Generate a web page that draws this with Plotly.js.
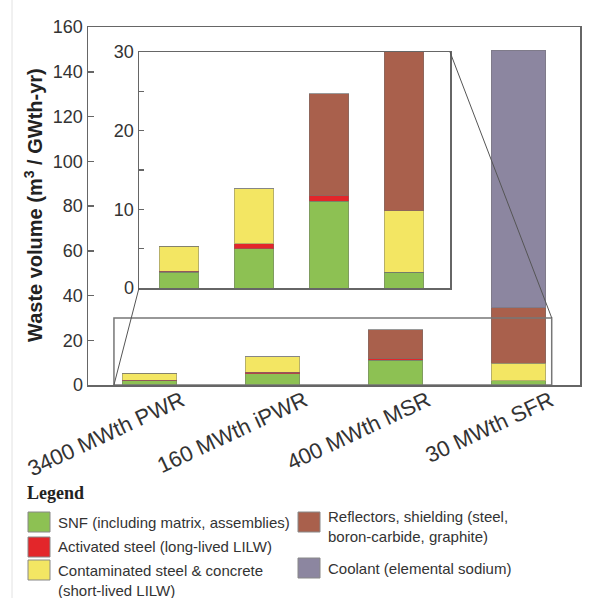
<!DOCTYPE html>
<html>
<head>
<meta charset="utf-8">
<script src="https://cdn.plot.ly/plotly-3.0.1.min.js"></script>
<style>html,body{margin:0;padding:0;background:#fff;}#chart{width:598px;height:598px;}</style>
</head>
<body>
<div id="chart"></div>
<script>
// ---- data ----
var categories = ['3400 MWth PWR', '160 MWth iPWR', '400 MWth MSR', '30 MWth SFR'];
var snf          = [2.0, 5.0, 11.0, 2.0];
var activated    = [0.1, 0.6, 0.7, 0.0];
var contaminated = [3.2, 7.0, 0.0, 7.8];
var reflectors   = [0.0, 0.0, 13.0, 24.7];
var coolant      = [0.0, 0.0, 0.0, 115.0];
var seriesNames = ['SNF (including matrix, assemblies)', 'Activated steel (long-lived LILW)',
  'Contaminated steel & concrete<br>(short-lived LILW)', 'Reflectors, shielding (steel,<br>boron-carbide, graphite)',
  'Coolant (elemental sodium)'];
var yTitle = 'Waste volume (m<sup>3</sup> / GWth-yr)';
var mainTicks = [0, 20, 40, 60, 80, 100, 120, 140, 160];
var insetTicks = [0, 10, 20, 30];

// ---- styling ----
var colors = ['#8dc153', '#e3262a', '#f3e663', '#a9604c', '#8c86a0'];
var allSeries = [snf, activated, contaminated, reflectors, coolant];
var FONT = 'Arial, "Liberation Sans", sans-serif';
var TXT = '#333';
var W = 598, H = 598, L = 88, R = 18, T = 27, B = 213;
var pw = W - L - R, ph = H - T - B;
function px(p) { return (p - L) / pw; }
function py(p) { return (H - B - p) / ph; }

var insetX = [px(139), px(450)];
var insetY = [py(288), py(52)];
var mainXRange = [-0.5, 3.5];
var insetXRange = [-0.533, 3.613];
var zoomBox = {x0: -0.289, x1: 3.27, y0: 0, y1: 30};

var traces = [];
allSeries.forEach(function (vals, i) {
  traces.push({type: 'bar', x: categories, y: vals, name: seriesNames[i], width: 0.44,
    marker: {color: colors[i], line: {color: 'rgba(110,110,110,0.45)', width: 1}},
    xaxis: 'x', yaxis: 'y', showlegend: false, hoverinfo: 'skip'});
  traces.push({type: 'bar', x: categories, y: vals, name: seriesNames[i], width: 0.53,
    marker: {color: colors[i], line: {color: 'rgba(110,110,110,0.45)', width: 1}},
    xaxis: 'x2', yaxis: 'y2', showlegend: false, hoverinfo: 'skip'});
});

function mainToPaperX(v) { return (v - mainXRange[0]) / (mainXRange[1] - mainXRange[0]); }

var shapes = [
  {type: 'line', xref: 'paper', yref: 'paper', x0: px(12), x1: px(12), y0: py(0), y1: py(598),
   line: {color: '#e2e2e2', width: 1}},
  {type: 'rect', xref: 'x', yref: 'y', x0: zoomBox.x0, x1: zoomBox.x1, y0: zoomBox.y0, y1: zoomBox.y1,
   line: {color: '#777', width: 1.5}},
  {type: 'line', xref: 'paper', yref: 'paper', x0: mainToPaperX(zoomBox.x0), y0: zoomBox.y0 / 160,
   x1: insetX[0], y1: insetY[0], line: {color: '#555', width: 1}},
  {type: 'line', xref: 'paper', yref: 'paper', x0: insetX[1], y0: insetY[1],
   x1: mainToPaperX(zoomBox.x1), y1: zoomBox.y1 / 160, line: {color: '#555', width: 1}}
];

var annotations = [
  {xref: 'paper', yref: 'paper', x: px(33), y: py(205), xanchor: 'center', yanchor: 'middle',
   textangle: -90, text: '<b>' + yTitle + '</b>', showarrow: false,
   font: {family: FONT, size: 20, color: '#222'}},
  {xref: 'paper', yref: 'paper', x: px(25), y: py(493), xanchor: 'left', yanchor: 'middle',
   text: '<b>Legend</b>', showarrow: false, font: {family: '"Liberation Serif", "Times New Roman", serif', size: 18, color: '#222'}}
];
// legend layout: [swatch left px, swatch top px, text y center px]
var legendPos = [[28, 512, 522], [28, 537, 546], [28, 560, 580], [298, 512, 526], [298, 558, 568]];
seriesNames.forEach(function (n, i) {
  var p = legendPos[i];
  shapes.push({type: 'rect', xref: 'paper', yref: 'paper', x0: px(p[0]), x1: px(p[0] + 22),
    y0: py(p[1] + 20), y1: py(p[1]), fillcolor: colors[i], line: {color: '#888', width: 1}});
  annotations.push({xref: 'paper', yref: 'paper', x: px(p[0] + 28), y: py(p[2]), xanchor: 'left',
    yanchor: 'middle', align: 'left', text: n, showarrow: false,
    font: {family: FONT, size: 15, color: TXT}});
});

var layout = {
  width: W, height: H,
  margin: {l: L, r: R, t: T, b: B, pad: 0},
  paper_bgcolor: '#fff', plot_bgcolor: 'rgba(0,0,0,0)',
  barmode: 'stack',
  font: {family: FONT, color: TXT},
  xaxis: {type: 'category', range: mainXRange, domain: [0, 1], anchor: 'y',
    showline: true, mirror: true, linecolor: '#666', linewidth: 1.5, ticks: '',
    tickangle: -25, tickfont: {size: 22, color: TXT}, ticklabelshift: 32, ticklabelstandoff: -7,
    showgrid: false, zeroline: false, fixedrange: true},
  yaxis: {range: [0, 160], domain: [0, 1], anchor: 'x', tickvals: mainTicks,
    showline: true, mirror: true, linecolor: '#666', linewidth: 1.5,
    ticks: 'inside', ticklen: 6, tickcolor: '#666', tickwidth: 1.5,
    tickfont: {size: 18, color: TXT}, showgrid: false, zeroline: false},
  xaxis2: {type: 'category', range: insetXRange, domain: insetX, anchor: 'y2',
    showline: true, mirror: true, linecolor: '#666', linewidth: 1.5, ticks: '',
    showticklabels: false, showgrid: false, zeroline: false},
  yaxis2: {range: [0, 30], domain: insetY, anchor: 'x2', tickvals: insetTicks,
    showline: true, mirror: true, linecolor: '#666', linewidth: 1.5,
    ticks: 'inside', ticklen: 5, tickcolor: '#666', tickwidth: 1.2,
    minor: {dtick: 5, tick0: 0, ticks: 'inside', ticklen: 5, tickcolor: '#666', tickwidth: 1.2, showgrid: false},
    tickfont: {size: 18, color: TXT}, showgrid: false, zeroline: false},
  shapes: shapes,
  annotations: annotations,
  showlegend: false
};

Plotly.newPlot('chart', traces, layout, {staticPlot: true, displayModeBar: false});
</script>
</body>
</html>
